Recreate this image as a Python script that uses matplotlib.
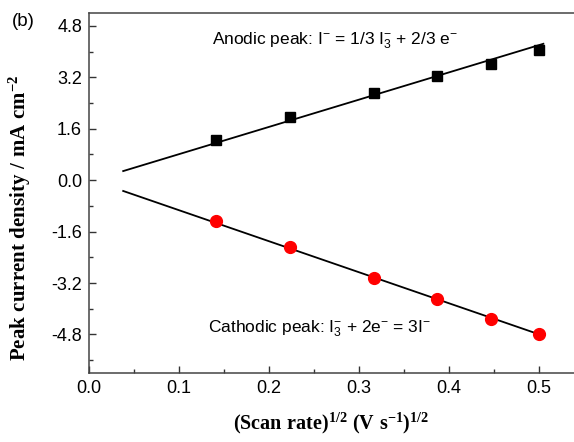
import numpy as np
import matplotlib
matplotlib.use('Agg')
import matplotlib.pyplot as plt
from matplotlib.ticker import MultipleLocator

# data
scan_rate = [0.02, 0.05, 0.10, 0.15, 0.20, 0.25]
anodic = [1.26, 1.97, 2.72, 3.25, 3.62, 4.05]
cathodic = [-1.26, -2.07, -3.03, -3.71, -4.33, -4.80]
# fitted lines as drawn (slope, intercept)
anodic_fit = [8.48, -0.04]
cathodic_fit = [-9.65, 0.03]
fit_range = [0.038, 0.505]

plt.rcParams['font.family'] = ['Liberation Sans', 'DejaVu Sans']
plt.rcParams['mathtext.fontset'] = 'custom'
plt.rcParams['mathtext.rm'] = 'Liberation Serif:bold'
plt.rcParams['mathtext.sf'] = 'Liberation Sans'
plt.rcParams['mathtext.it'] = 'Liberation Sans:italic'
plt.rcParams['mathtext.default'] = 'sf'

x = np.sqrt(scan_rate)
xf = np.linspace(fit_range[0], fit_range[1], 2)

fig = plt.figure(figsize=(5.74, 4.42), dpi=100)
ax = fig.add_axes([89 / 574, 1 - 373 / 442, 485 / 574, 360 / 442])

ax.plot(xf, anodic_fit[0] * xf + anodic_fit[1], color='black', lw=1.3)
ax.plot(xf, cathodic_fit[0] * xf + cathodic_fit[1], color='black', lw=1.3)
ax.plot(x, anodic, 's', color='black', markersize=7.5, zorder=3)
ax.plot(x, cathodic, 'o', color='#ff0000', markersize=8.5, zorder=3)

ax.set_xlim(0, 0.539)
ax.set_ylim(-6.0, 5.2)
ax.xaxis.set_minor_locator(MultipleLocator(0.05))
ax.yaxis.set_minor_locator(MultipleLocator(0.8))
ax.set_xticks(np.arange(0, 0.51, 0.1))
ax.set_xticklabels(['0.0', '0.1', '0.2', '0.3', '0.4', '0.5'])
ax.set_yticks(np.arange(-4.8, 4.81, 1.6))
ax.set_yticklabels(['%.1f' % v for v in np.arange(-4.8, 4.81, 1.6)])

ax.tick_params(which='both', direction='in', top=False, right=False,
               labelsize=13, color='#333333', pad=5)
ax.tick_params(which='major', length=5, width=1)
ax.tick_params(which='minor', length=3, width=1)
ax.spines['right'].set_visible(False)
for s in ['left', 'bottom', 'top']:
    ax.spines[s].set_color('#444444')
    ax.spines[s].set_linewidth(1.1)

ax.set_ylabel(r'$\mathrm{Peak\ current\ density\ /\ mA\ cm^{-2}}$', fontsize=15)
ax.yaxis.set_label_coords(-0.115, 0.43)
ax.set_xlabel(r'$\mathrm{(Scan\ rate)^{1/2}\ (V\ s^{-1})^{1/2}}$', fontsize=14.5)
ax.xaxis.set_label_coords(0.5, -0.105)

fig.text(212 / 574, 1 - 41 / 442, 'Anodic peak: I$^{-}$ = 1/3 I$_{3}^{-}$ + 2/3 e$^{-}$',
         fontsize=12.5, va='center')
fig.text(208 / 574, 1 - 329 / 442, 'Cathodic peak: I$_{3}^{-}$ + 2e$^{-}$ = 3I$^{-}$',
         fontsize=12.5, va='center')
fig.text(23 / 574, 1 - 21 / 442, '(b)', fontsize=13.5, ha='center', va='center')

fig.savefig('out.png', dpi=100)
